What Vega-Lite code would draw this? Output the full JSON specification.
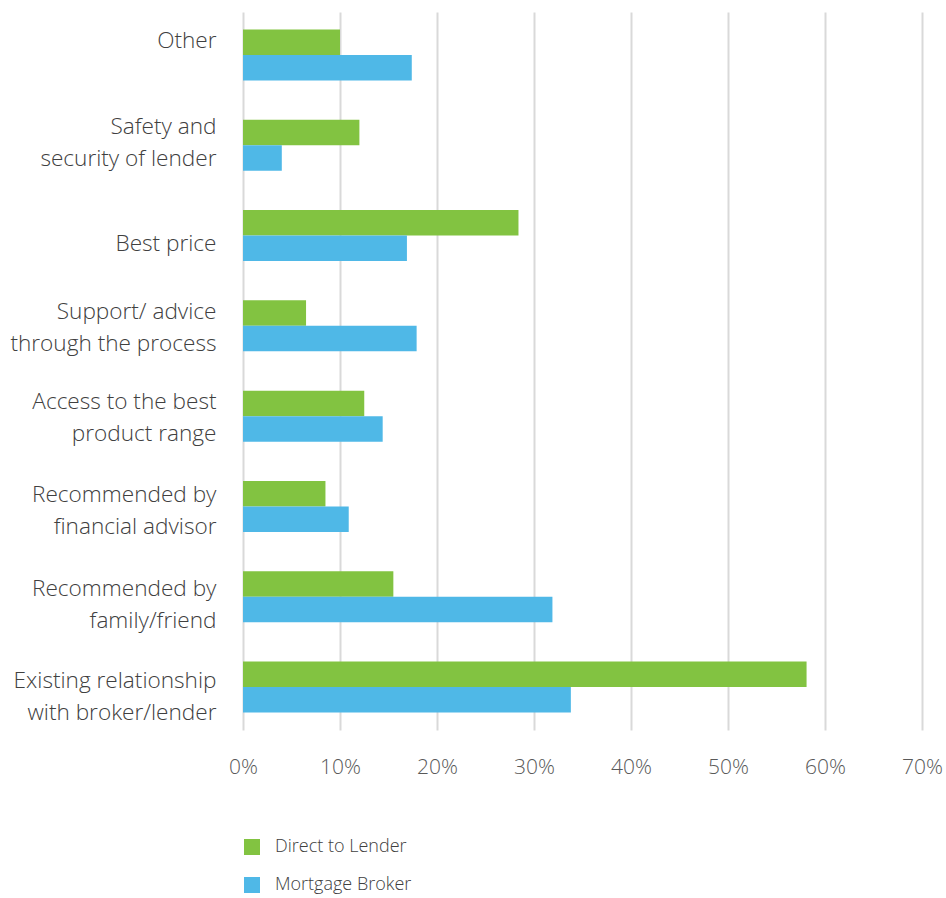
{
  "$schema": "https://vega.github.io/schema/vega-lite/v6.json",
  "autosize": "none",
  "padding": {"left": 243, "top": 12, "right": 24, "bottom": 168},
  "width": 679,
  "height": 718,
  "background": "white",
  "config": {
    "view": {"stroke": null},
    "font": "Open Sans"
  },
  "data": {
    "values": [
      {"reason": "Other", "series": "Direct to Lender", "value": 0.100},
      {"reason": "Other", "series": "Mortgage Broker", "value": 0.174},
      {"reason": "Safety and|security of lender", "series": "Direct to Lender", "value": 0.120},
      {"reason": "Safety and|security of lender", "series": "Mortgage Broker", "value": 0.040},
      {"reason": "Best price", "series": "Direct to Lender", "value": 0.284},
      {"reason": "Best price", "series": "Mortgage Broker", "value": 0.169},
      {"reason": "Support/ advice|through the process", "series": "Direct to Lender", "value": 0.065},
      {"reason": "Support/ advice|through the process", "series": "Mortgage Broker", "value": 0.179},
      {"reason": "Access to the best|product range", "series": "Direct to Lender", "value": 0.125},
      {"reason": "Access to the best|product range", "series": "Mortgage Broker", "value": 0.144},
      {"reason": "Recommended by|financial advisor", "series": "Direct to Lender", "value": 0.085},
      {"reason": "Recommended by|financial advisor", "series": "Mortgage Broker", "value": 0.109},
      {"reason": "Recommended by|family/friend", "series": "Direct to Lender", "value": 0.155},
      {"reason": "Recommended by|family/friend", "series": "Mortgage Broker", "value": 0.319},
      {"reason": "Existing relationship|with broker/lender", "series": "Direct to Lender", "value": 0.581},
      {"reason": "Existing relationship|with broker/lender", "series": "Mortgage Broker", "value": 0.338}
    ]
  },
  "mark": {"type": "bar"},
  "encoding": {
    "y": {
      "field": "reason",
      "type": "nominal",
      "sort": null,
      "scale": {"paddingInner": 0.435, "paddingOuter": 0.194},
      "axis": {
        "title": null,
        "domain": false,
        "ticks": false,
        "labelPadding": 27,
        "labelFont": "Open Sans",
        "labelFontWeight": 300,
        "labelFontSize": 22.6,
        "labelColor": "#404040",
        "labelLineHeight": 32,
        "labelLimit": 300,
        "labelOffset": {
          "condition": [
            {"test": "datum.value == 'Best price'", "value": 8},
            {"test": "datum.value == 'Safety and|security of lender'", "value": -18},
            {"test": "datum.value == 'Recommended by|financial advisor'", "value": -11},
            {"test": "datum.value == 'Recommended by|family/friend'", "value": -8},
            {"test": "datum.value == 'Existing relationship|with broker/lender'", "value": -6}
          ],
          "value": -14
        },
        "labelExpr": "split(datum.value, '|')"
      }
    },
    "yOffset": {
      "field": "series",
      "type": "nominal",
      "sort": ["Direct to Lender", "Mortgage Broker"],
      "scale": {"paddingInner": 0, "paddingOuter": 0}
    },
    "x": {
      "field": "value",
      "type": "quantitative",
      "scale": {"domain": [0, 0.7], "nice": false},
      "axis": {
        "title": null,
        "format": ".0%",
        "values": [0, 0.1, 0.2, 0.3, 0.4, 0.5, 0.6, 0.7],
        "domain": false,
        "ticks": false,
        "grid": true,
        "gridColor": "#d9d9d9",
        "gridWidth": 2,
        "labelPadding": 26,
        "labelFont": "Open Sans",
        "labelFontWeight": 300,
        "labelFontSize": 21,
        "labelColor": "#595959",
        "labelFlush": false
      }
    },
    "color": {
      "field": "series",
      "type": "nominal",
      "sort": ["Direct to Lender", "Mortgage Broker"],
      "scale": {"domain": ["Direct to Lender", "Mortgage Broker"], "range": ["#82c341", "#4fb8e7"]},
      "legend": {
        "title": null,
        "orient": "bottom",
        "direction": "vertical",
        "offset": 61,
        "symbolType": "square",
        "symbolSize": 256,
        "symbolStrokeWidth": 0,
        "symbolOpacity": 1,
        "rowPadding": 20,
        "labelFont": "Open Sans",
        "labelFontSize": 18,
        "labelFontWeight": 300,
        "labelColor": "#404040",
        "labelOffset": 14,
        "padding": 0
      }
    }
  }
}
